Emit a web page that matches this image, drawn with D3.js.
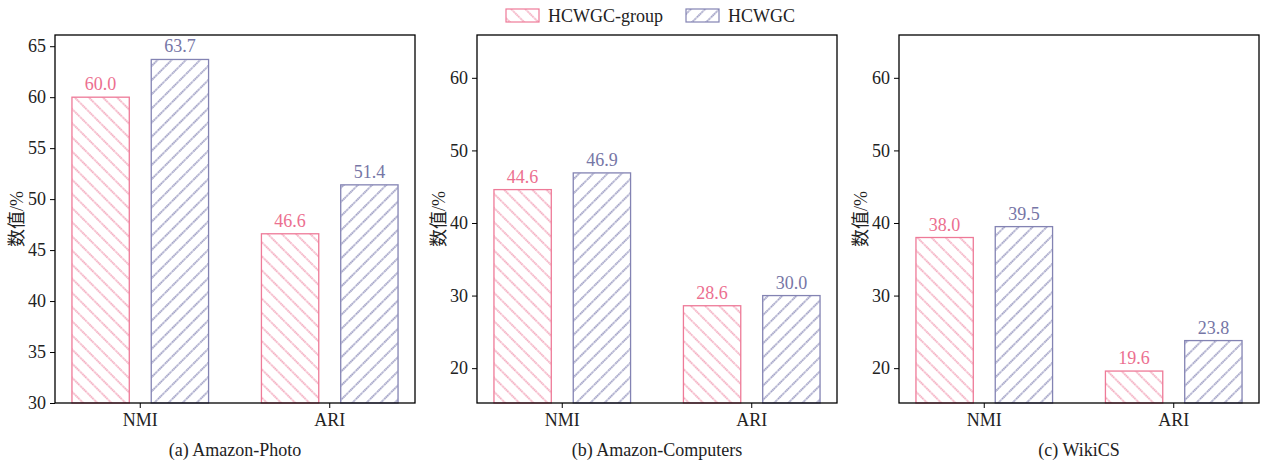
<!DOCTYPE html>
<html><head><meta charset="utf-8">
<script src="https://cdn.jsdelivr.net/npm/d3@7"></script>
<style>
body{margin:0;background:#fff;}
svg{display:block;}
text{font-family:"Liberation Serif","Times New Roman",serif;}
</style></head>
<body><svg id="c" width="1263" height="463"></svg>
<script>
const categories = ["NMI", "ARI"];
const seriesNames = ["HCWGC-group", "HCWGC"];
const panelTitles = ["(a) Amazon-Photo", "(b) Amazon-Computers", "(c) WikiCS"];
const photoGroup = [60.0, 46.6];
const photoFull = [63.7, 51.4];
const computersGroup = [44.6, 28.6];
const computersFull = [46.9, 30.0];
const wikiGroup = [38.0, 19.6];
const wikiFull = [39.5, 23.8];
const photoTicks = [30, 35, 40, 45, 50, 55, 60, 65];
const otherTicks = [20, 30, 40, 50, 60];
const photoDomain = [30, 66.1];
const otherDomain = [15.2, 65.9];

const colors = ["#ee7a98", "#8383b3"];
const textColors = ["#ec6f8f", "#7676a6"];
const FS = 18;

const panels = [
  {title: panelTitles[0], series: [photoGroup, photoFull], ticks: photoTicks, domain: photoDomain},
  {title: panelTitles[1], series: [computersGroup, computersFull], ticks: otherTicks, domain: otherDomain},
  {title: panelTitles[2], series: [wikiGroup, wikiFull], ticks: otherTicks, domain: otherDomain}
];

const svg = d3.select("#c");
const defs = svg.append("defs");
[["hatchPink", -45, colors[0], 1.2], ["hatchPurple", 45, colors[1], 1.5]].forEach(([id, rot, col, sw]) => {
  const p = defs.append("pattern").attr("id", id).attr("patternUnits", "userSpaceOnUse")
    .attr("width", 10).attr("height", 10).attr("patternTransform", `rotate(${rot})`);
  p.append("rect").attr("width", 10).attr("height", 10).attr("fill", "#fff");
  p.append("line").attr("x1", 5).attr("x2", 5).attr("y1", -1).attr("y2", 11)
    .attr("stroke", col).attr("stroke-width", sw).attr("stroke-dasharray", "1.6,0.6");
});
const fills = ["url(#hatchPink)", "url(#hatchPurple)"];

const lefts = [55, 477, 899];
const W = 360, plotTop = 35, plotBottom = 403;

panels.forEach((pd, pi) => {
  const g = svg.append("g").attr("transform", `translate(${lefts[pi]},0)`);
  const x = d3.scaleBand().domain(categories).range([0, W]).paddingInner(0.279).paddingOuter(0.0895);
  const xs = d3.scaleBand().domain([0, 1]).range([0, x.bandwidth()]).paddingInner(0.277);
  const y = d3.scaleLinear().domain(pd.domain).range([plotBottom, plotTop]);

  pd.series.forEach((vals, si) => {
    categories.forEach((c, ci) => {
      const bx = x(c) + xs(si), v = vals[ci];
      g.append("rect").attr("x", bx).attr("y", y(v)).attr("width", xs.bandwidth())
        .attr("height", plotBottom - y(v)).attr("fill", fills[si]).attr("stroke", colors[si]).attr("stroke-width", 1.3);
      g.append("text").attr("x", bx + xs.bandwidth() / 2).attr("y", y(v) - 7)
        .attr("text-anchor", "middle").attr("font-size", FS).attr("fill", textColors[si]).text(v.toFixed(1));
    });
  });

  g.append("rect").attr("x", 0).attr("y", plotTop).attr("width", W).attr("height", plotBottom - plotTop)
    .attr("fill", "none").attr("stroke", "#000").attr("stroke-width", 1.3);

  const ya = g.append("g").call(d3.axisLeft(y).tickValues(pd.ticks).tickSize(5).tickSizeOuter(0));
  ya.select(".domain").remove();
  ya.selectAll("text").attr("font-size", FS).attr("fill", "#222").attr("font-family", "Liberation Serif").attr("dx", -1);
  ya.selectAll("line").attr("stroke", "#000");

  const xa = g.append("g").attr("transform", `translate(0,${plotBottom})`).call(d3.axisBottom(x).tickSize(5).tickSizeOuter(0));
  xa.select(".domain").remove();
  xa.selectAll("text").attr("font-size", FS).attr("fill", "#222").attr("font-family", "Liberation Serif").attr("dy", "0.85em");
  xa.selectAll("line").attr("stroke", "#000");

  g.append("text").attr("x", W / 2).attr("y", 456).attr("text-anchor", "middle").attr("font-size", FS)
    .attr("fill", "#222").text(pd.title);

  g.append("text").attr("transform", `translate(-32,${(plotTop + plotBottom) / 2}) rotate(-90)`)
    .attr("text-anchor", "middle").attr("font-size", FS).attr("fill", "#222")
    .style("font-family", "'Liberation Serif','Noto Sans CJK SC',serif").text("数值/%");
});

const leg = svg.append("g");
const legX = [506, 686];
seriesNames.forEach((n, i) => {
  leg.append("rect").attr("x", legX[i]).attr("y", 9).attr("width", 33).attr("height", 13)
    .attr("fill", fills[i]).attr("stroke", colors[i]).attr("stroke-width", 1.2);
  leg.append("text").attr("x", legX[i] + 42).attr("y", 22).attr("font-size", FS).attr("fill", "#222").text(n);
});
</script></body></html>
